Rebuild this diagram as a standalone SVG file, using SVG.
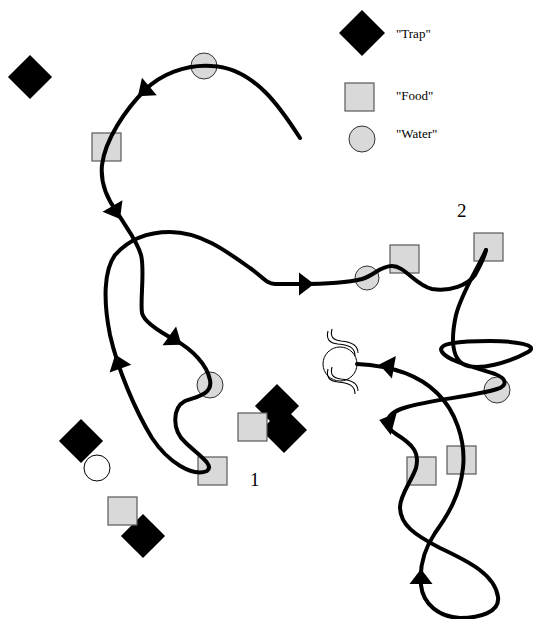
<svg xmlns="http://www.w3.org/2000/svg" width="533" height="619" viewBox="0 0 533 619">
<style>
.trap{fill:#000}
.food{fill:#d9d9d9;stroke:#595959;stroke-width:1.2}
.water{fill:#d9d9d9;stroke:#333;stroke-width:1}
.lbl{font-family:"Liberation Serif","Times New Roman",serif;font-size:13px;fill:#000}
.num{font-family:"Liberation Serif","Times New Roman",serif;font-size:19px;fill:#000}
.path{fill:none;stroke:#000;stroke-width:4;stroke-linecap:round;stroke-linejoin:round}
.sq{fill:none;stroke:#000;stroke-width:1.1}
</style>
<defs>
<path id="dia" d="M0,-23 L23,0 L0,23 L-23,0 Z"/>
<path id="ah" d="M8,0 L-7,-11.5 L-7,11.5 Z"/>
<g id="squig"><path d="M328,331 C326,339 329,343 338,344 C350,345 355,348 355,356"/><path d="M332,329 C330,337 333,340 341,341 C353,342 358,346 358,353"/></g>
</defs>
<g id="legend-trap"><use href="#dia" class="trap" transform="translate(362,33)"/><text class="lbl" x="396" y="38">"Trap"</text></g>
<g id="legend-food"><rect class="food" x="345" y="83" width="29" height="28"/><text class="lbl" x="396" y="100">"Food"</text></g>
<g id="legend-water"><circle class="water" cx="362" cy="139" r="13"/><text class="lbl" x="396" y="138">"Water"</text></g>
<g id="trap1"><use href="#dia" class="trap" transform="translate(30,77) scale(0.96)"/></g>
<g id="trap2"><use href="#dia" class="trap" transform="translate(277,406) scale(0.96)"/></g>
<g id="trap3"><use href="#dia" class="trap" transform="translate(284,430)"/></g>
<g id="trap4"><use href="#dia" class="trap" transform="translate(81,441) scale(0.96)"/></g>
<g id="trap5"><use href="#dia" class="trap" transform="translate(143,536) scale(0.96)"/></g>
<g id="water1"><circle class="water" cx="204" cy="66" r="13"/></g>
<g id="water2"><circle class="water" cx="210" cy="385" r="13"/></g>
<g id="water3"><circle class="water" cx="367" cy="278" r="12"/></g>
<g id="water4"><circle class="water" cx="497" cy="390" r="13"/></g>
<g id="water-empty"><circle cx="97" cy="468" r="13" fill="#fff" stroke="#000" stroke-width="1"/></g>
<g id="food1"><rect class="food" x="92" y="133" width="29" height="28"/></g>
<g id="food2"><rect class="food" x="390" y="245" width="29" height="28"/></g>
<g id="food3"><rect class="food" x="474" y="233" width="29" height="28"/></g>
<g id="food4"><rect class="food" x="238" y="413" width="29" height="28"/></g>
<g id="food5"><rect class="food" x="198" y="457" width="29" height="28"/></g>
<g id="food6"><rect class="food" x="108" y="497" width="29" height="28"/></g>
<g id="food7"><rect class="food" x="407" y="457" width="29" height="28"/></g>
<g id="food8"><rect class="food" x="447" y="446" width="29" height="28"/></g>
<g id="spring"><circle cx="340" cy="364" r="17" fill="#fff" stroke="#000" stroke-width="1"/><g class="sq"><use href="#squig"/><use href="#squig" transform="translate(0,38)"/></g></g>
<g id="label1"><text class="num" x="250" y="486">1</text></g>
<g id="label2"><text class="num" x="457" y="217">2</text></g>
<g id="connectors">
<path class="path" d="M300,138 C282,110 255,68 212,66 C185,64 160,75 145,90 C125,110 105,140 102,165 C100,185 108,200 117,212 C125,226 137,240 141,255 C145,270 140,300 142,313 C144,322 160,332 175,340 C193,350 207,365 210,380 C213,395 195,397 185,401 C172,408 172,430 185,442 C198,455 215,465 207,471 C192,477 168,462 152,438 C135,410 118,370 110,335 C103,300 104,270 115,255 C130,238 150,232 170,232 C200,232 225,250 250,268 C262,276 266,284 275,284 L300,284 C330,284 350,282 362,279 C375,275 380,266 392,266 C405,266 415,285 432,289 C450,292 468,285 475,275 C480,266 485,255 486,250"/>
<path class="path" d="M486,250 C478,268 462,292 456,315 C451,338 452,357 463,364 C478,372 510,362 528,352 C540,345 515,341 490,341 C460,341 436,343 442,352 C449,362 478,368 495,374 C508,379 507,386 497,389 C475,396 430,400 407,407 C385,413 382,425 396,434 C412,444 420,452 416,468 C412,480 400,495 400,507 C400,525 415,535 440,548 C470,562 495,575 498,597 C500,612 480,618 460,618 C440,617 423,605 421,585 C419,565 425,548 435,533 C448,515 460,495 463,468 C466,440 455,410 437,393 C420,376 395,366 357,364"/>
<use href="#ah" transform="translate(144,91) rotate(140)"/>
<use href="#ah" transform="translate(116,212) rotate(60)"/>
<use href="#ah" transform="translate(175,340) rotate(36)"/>
<use href="#ah" transform="translate(118,362) rotate(-110)"/>
<use href="#ah" transform="translate(306,284)"/>
<use href="#ah" transform="translate(387,422) rotate(195)"/>
<use href="#ah" transform="translate(421,577) rotate(-90)"/>
<use href="#ah" transform="translate(387,366) rotate(190)"/>
</g>
</svg>
